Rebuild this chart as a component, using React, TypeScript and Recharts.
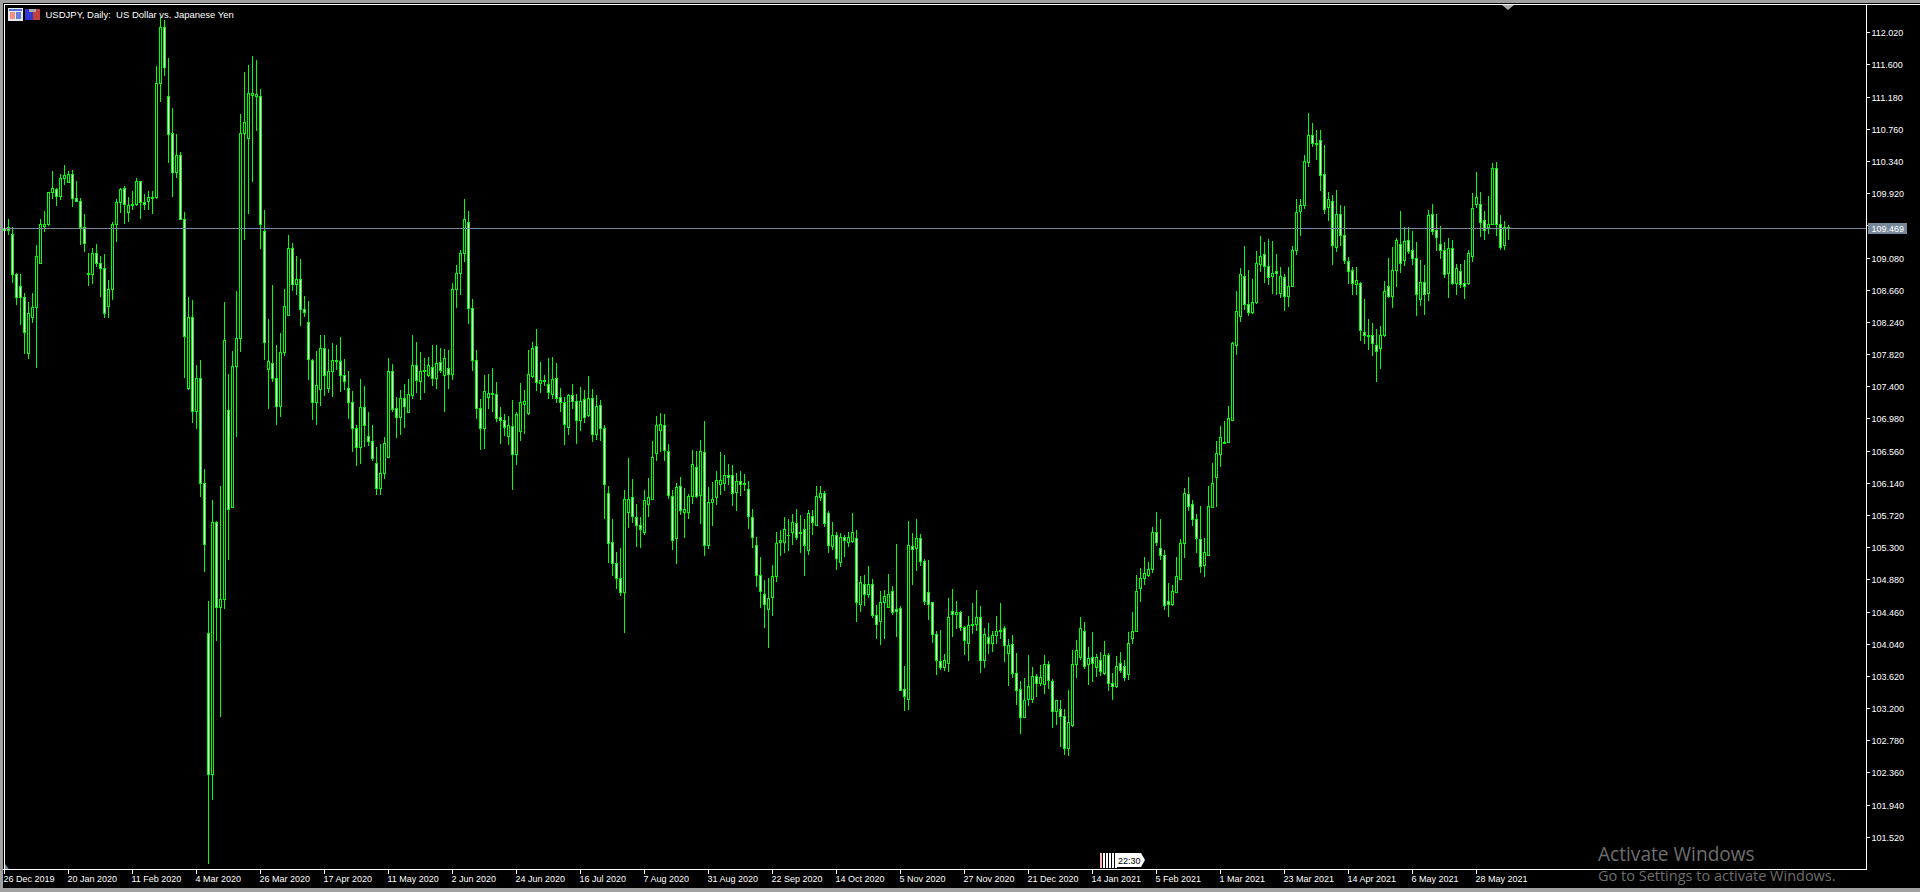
import React from 'react';
import { Bar, ComposedChart, ReferenceLine, XAxis, YAxis } from 'recharts';

const FONT = '"Liberation Sans", Arial, sans-serif';
const SLOTS = 466; // the terminal leaves empty space right of the last candle
const LABEL_EVERY = 16;
const LAST_PRICE = 109.469;

const dateLabels = [
  '26 Dec 2019', '20 Jan 2020', '11 Feb 2020', '4 Mar 2020', '26 Mar 2020', '17 Apr 2020',
  '11 May 2020', '2 Jun 2020', '24 Jun 2020', '16 Jul 2020', '7 Aug 2020', '31 Aug 2020',
  '22 Sep 2020', '14 Oct 2020', '5 Nov 2020', '27 Nov 2020', '21 Dec 2020', '14 Jan 2021',
  '5 Feb 2021', '1 Mar 2021', '23 Mar 2021', '14 Apr 2021', '6 May 2021', '28 May 2021',
];

const priceTicks = [
  112.02, 111.6, 111.18, 110.76, 110.34, 109.92, 109.5, 109.08, 108.66, 108.24, 107.82, 107.4, 106.98,
  106.56, 106.14, 105.72, 105.3, 104.88, 104.46, 104.04, 103.62, 103.2, 102.78, 102.36, 101.94, 101.52,
];

const opens = [
  109.47, 109.49, 109.40, 108.87, 108.72, 108.57, 107.84, 108.31, 108.44, 109.02,
  109.50, 109.52, 109.94, 109.98, 109.89, 110.13, 110.07, 110.18, 109.86, 109.83,
  109.48, 108.87, 108.87, 109.14, 109.01, 108.95, 108.46, 108.67, 109.52, 109.81,
  109.99, 109.68, 109.77, 109.78, 110.08, 109.81, 109.82, 109.86, 109.87, 111.36,
  112.09, 111.19, 110.71, 110.20, 110.42, 109.59, 107.39, 108.31, 107.08, 107.52,
  106.15, 104.19, 102.35, 105.63, 104.53, 104.63, 107.10, 105.83, 107.67, 108.04,
  110.71, 110.64, 111.21, 111.20, 111.20, 109.43, 107.63, 107.71, 107.52, 107.15,
  107.86, 108.34, 109.21, 108.74, 108.81, 108.41, 108.25, 107.75, 107.20, 107.37,
  107.90, 107.38, 107.60, 107.74, 107.74, 107.55, 107.38, 107.20, 106.86, 106.61,
  107.14, 106.76, 106.69, 106.40, 106.08, 106.27, 106.48, 107.60, 107.12, 107.01,
  107.25, 107.07, 107.29, 107.69, 107.48, 107.62, 107.55, 107.66, 107.52, 107.72,
  107.56, 107.65, 107.57, 108.67, 108.89, 109.14, 109.55, 108.43, 107.75, 107.12,
  106.86, 107.27, 107.31, 107.30, 107.00, 106.97, 106.76, 106.89, 106.52, 106.82,
  107.18, 107.06, 107.54, 107.93, 107.45, 107.48, 107.44, 107.31, 107.52, 107.26,
  107.20, 106.88, 107.29, 107.22, 106.96, 107.24, 107.03, 107.25, 106.79, 107.16,
  106.86, 106.02, 105.37, 105.10, 104.91, 104.72, 105.76, 105.96, 105.70, 105.59,
  105.51, 105.87, 105.93, 106.53, 106.83, 106.90, 106.56, 105.97, 105.42, 106.11,
  105.77, 105.76, 105.97, 106.35, 105.99, 106.55, 105.33, 105.89, 105.96, 106.13,
  106.15, 106.25, 106.25, 106.03, 106.17, 106.14, 106.07, 105.70, 105.34, 104.94,
  104.69, 104.50, 104.65, 104.93, 105.38, 105.38, 105.46, 105.50, 105.62, 105.49,
  105.54, 105.27, 105.72, 105.60, 105.96, 106.02, 105.75, 105.32, 105.47, 105.11,
  105.44, 105.38, 105.39, 105.42, 104.57, 104.83, 104.69, 104.82, 104.42, 104.34,
  104.59, 104.53, 104.73, 104.50, 104.51, 103.45, 103.32, 105.32, 105.29, 105.42,
  105.13, 104.72, 104.59, 104.18, 103.82, 103.74, 103.79, 104.48, 104.43, 104.46,
  104.26, 104.05, 104.29, 104.30, 104.40, 103.84, 104.13, 104.05, 104.16, 104.21,
  104.25, 103.93, 104.04, 103.66, 103.45, 103.09, 103.32, 103.32, 103.62, 103.53,
  103.52, 103.78, 103.56, 103.17, 103.19, 103.11, 102.68, 102.99, 103.78, 103.88,
  104.21, 103.78, 103.87, 103.74, 103.83, 103.67, 103.90, 103.53, 103.50, 103.79,
  103.75, 103.65, 104.12, 104.21, 104.77, 104.90, 104.95, 105.02, 105.51, 105.30,
  105.20, 104.60, 104.57, 104.72, 104.89, 105.36, 106.00, 105.87, 105.68, 105.41,
  105.07, 105.21, 105.83, 106.22, 106.52, 106.67, 106.68, 106.97, 107.95, 108.32,
  108.84, 108.48, 108.38, 108.50, 109.00, 109.13, 108.98, 108.84, 108.91, 108.62,
  108.83, 108.59, 108.71, 109.18, 109.70, 109.77, 110.33, 110.68, 110.57, 110.62,
  110.18, 109.74, 109.82, 109.22, 109.65, 109.38, 109.04, 108.92, 108.74, 108.76,
  108.12, 108.08, 108.07, 107.94, 107.90, 108.07, 108.71, 108.59, 108.92, 109.26,
  109.06, 109.32, 109.18, 109.08, 108.55, 108.77, 108.63, 109.65, 109.44, 109.26,
  109.19, 108.88, 109.21, 108.75, 108.91, 108.75, 108.76, 109.10, 109.78, 109.78,
  109.57, 109.48, 109.53, 110.26, 109.52, 109.25, 109.49,
];

const closes = [
  109.45, 109.45, 108.87, 108.57, 108.57, 108.11, 108.36, 108.44, 109.10, 109.52,
  109.52, 109.94, 109.99, 109.89, 110.13, 110.16, 110.18, 109.86, 109.83, 109.49,
  109.28, 108.89, 109.14, 109.01, 108.95, 108.36, 108.67, 109.52, 109.81, 109.98,
  109.78, 109.77, 109.78, 110.08, 109.81, 109.78, 109.87, 109.87, 111.36, 112.09,
  111.57, 110.70, 110.20, 110.42, 109.59, 108.06, 108.31, 107.08, 107.52, 106.15,
  105.35, 102.35, 105.63, 104.53, 104.63, 108.01, 105.80, 107.67, 108.04, 110.71,
  110.85, 111.23, 111.23, 111.22, 109.53, 107.98, 107.73, 107.52, 107.15, 107.86,
  108.45, 109.21, 108.74, 108.81, 108.41, 108.38, 107.76, 107.20, 107.42, 107.91,
  107.55, 107.61, 107.75, 107.75, 107.56, 107.48, 107.20, 106.86, 106.61, 107.14,
  106.90, 106.69, 106.47, 106.08, 106.27, 106.67, 107.61, 107.11, 107.01, 107.25,
  107.15, 107.30, 107.69, 107.49, 107.60, 107.60, 107.68, 107.52, 107.71, 107.62,
  107.78, 107.57, 108.67, 108.89, 109.14, 109.59, 108.43, 107.75, 107.12, 106.86,
  107.34, 107.32, 107.32, 106.99, 106.97, 106.87, 106.90, 106.52, 107.04, 107.20,
  107.22, 107.57, 107.91, 107.46, 107.49, 107.49, 107.33, 107.50, 107.25, 107.20,
  106.91, 107.29, 107.22, 106.96, 107.21, 107.01, 107.25, 106.79, 107.15, 106.86,
  106.13, 105.36, 105.10, 104.91, 104.72, 105.93, 105.94, 105.71, 105.59, 105.54,
  105.92, 105.96, 106.49, 106.90, 106.92, 106.57, 105.99, 105.40, 106.09, 105.79,
  105.81, 105.97, 106.39, 105.98, 106.56, 105.34, 105.89, 105.94, 106.18, 106.18,
  106.25, 106.22, 106.02, 106.17, 106.13, 106.13, 105.72, 105.44, 104.94, 104.74,
  104.56, 104.64, 104.93, 105.36, 105.40, 105.55, 105.47, 105.64, 105.44, 105.51,
  105.33, 105.75, 105.63, 105.97, 106.02, 105.62, 105.34, 105.47, 105.16, 105.44,
  105.40, 105.44, 105.50, 104.59, 104.85, 104.70, 104.82, 104.42, 104.31, 104.59,
  104.67, 104.69, 104.46, 104.47, 103.44, 103.36, 105.34, 105.28, 105.42, 105.13,
  104.61, 104.57, 104.18, 103.83, 103.74, 103.83, 104.40, 104.44, 104.46, 104.26,
  104.09, 104.29, 104.30, 104.39, 103.83, 104.18, 104.05, 104.16, 104.21, 104.23,
  104.03, 104.03, 103.66, 103.44, 103.09, 103.31, 103.50, 103.63, 103.53, 103.61,
  103.78, 103.57, 103.17, 103.31, 103.11, 102.69, 103.02, 103.78, 103.96, 104.25,
  103.75, 103.86, 103.80, 103.87, 103.69, 103.90, 103.54, 103.49, 103.76, 103.71,
  103.61, 104.05, 104.21, 104.73, 104.91, 104.97, 105.02, 105.50, 105.38, 105.20,
  104.55, 104.57, 104.73, 104.93, 105.36, 106.02, 105.85, 105.68, 105.42, 105.06,
  105.24, 105.84, 106.15, 106.54, 106.75, 106.68, 106.99, 107.97, 108.39, 108.87,
  108.48, 108.37, 108.50, 109.02, 109.11, 108.98, 108.83, 108.88, 108.88, 108.84,
  108.58, 108.72, 109.18, 109.68, 109.77, 110.34, 110.68, 110.58, 110.58, 110.17,
  109.72, 109.85, 109.25, 109.65, 109.38, 109.05, 108.91, 108.76, 108.79, 108.14,
  108.08, 108.06, 107.97, 107.87, 108.08, 108.65, 108.58, 108.92, 109.32, 109.02,
  109.30, 109.17, 109.08, 108.61, 108.77, 108.61, 109.64, 109.43, 109.36, 109.18,
  108.87, 109.21, 108.75, 108.95, 108.74, 108.72, 109.14, 109.73, 109.87, 109.55,
  109.45, 109.53, 110.25, 109.52, 109.23, 109.49, 109.469,
];

const highs = [
  109.63, 109.59, 109.48, 108.88, 108.87, 108.63, 108.50, 108.63, 109.25, 109.59,
  109.69, 109.94, 110.21, 110.00, 110.18, 110.29, 110.21, 110.23, 110.09, 109.86,
  109.65, 109.14, 109.21, 109.26, 109.10, 109.13, 108.79, 109.55, 109.85, 110.00,
  110.02, 109.88, 109.96, 110.13, 110.09, 109.91, 109.96, 109.95, 111.59, 112.22,
  112.19, 111.69, 111.04, 110.70, 110.46, 109.68, 108.57, 108.53, 107.68, 107.75,
  106.33, 104.60, 105.92, 105.65, 106.10, 108.51, 107.57, 107.87, 108.65, 110.96,
  111.51, 111.60, 111.72, 111.67, 111.29, 109.71, 108.29, 108.73, 107.95, 108.10,
  108.67, 109.38, 109.28, 109.11, 109.07, 108.59, 108.52, 107.76, 107.87, 108.08,
  108.08, 107.89, 107.97, 107.94, 108.05, 107.76, 107.61, 107.34, 106.90, 107.50,
  107.41, 107.07, 106.90, 106.61, 106.65, 106.75, 107.77, 107.70, 107.27, 107.36,
  107.43, 107.50, 108.08, 107.99, 107.85, 107.77, 107.79, 107.94, 107.94, 107.91,
  107.89, 107.88, 108.76, 108.99, 109.19, 109.85, 109.69, 108.54, 107.88, 107.24,
  107.55, 107.57, 107.64, 107.46, 107.13, 107.05, 107.02, 107.23, 107.07, 107.45,
  107.36, 107.88, 107.98, 108.16, 107.72, 107.56, 107.77, 107.79, 107.71, 107.39,
  107.26, 107.31, 107.44, 107.30, 107.40, 107.36, 107.54, 107.37, 107.29, 107.23,
  106.90, 106.10, 105.68, 105.24, 105.30, 106.05, 106.47, 106.20, 105.87, 105.70,
  106.05, 106.21, 106.69, 107.02, 107.06, 107.04, 106.65, 106.05, 106.15, 106.22,
  106.08, 106.00, 106.57, 106.56, 106.70, 106.95, 106.09, 106.16, 106.30, 106.55,
  106.51, 106.39, 106.38, 106.27, 106.30, 106.26, 106.17, 105.81, 105.44, 105.18,
  104.88, 104.90, 105.07, 105.50, 105.53, 105.70, 105.68, 105.74, 105.80, 105.73,
  105.67, 105.79, 105.79, 106.10, 106.10, 106.04, 105.78, 105.63, 105.51, 105.49,
  105.47, 105.50, 105.75, 105.53, 104.93, 104.94, 105.06, 104.89, 104.55, 104.73,
  104.75, 104.96, 104.80, 105.35, 104.54, 103.76, 105.65, 105.49, 105.67, 105.48,
  105.15, 105.14, 104.59, 104.21, 104.22, 103.91, 104.64, 104.76, 104.60, 104.47,
  104.28, 104.41, 104.58, 104.75, 104.54, 104.25, 104.32, 104.21, 104.41, 104.58,
  104.28, 104.11, 104.16, 103.93, 103.56, 103.60, 103.90, 103.74, 103.65, 103.77,
  103.90, 103.82, 103.59, 103.31, 103.31, 103.19, 103.44, 103.96, 104.09, 104.39,
  104.33, 104.00, 104.20, 103.91, 103.94, 104.08, 103.93, 103.66, 103.89, 103.94,
  103.83, 104.20, 104.46, 104.94, 105.03, 105.18, 105.11, 105.57, 105.77, 105.67,
  105.27, 104.84, 104.81, 105.18, 105.41, 106.08, 106.22, 105.92, 105.74, 105.84,
  105.43, 106.10, 106.40, 106.69, 106.89, 106.95, 107.15, 107.98, 108.65, 108.95,
  109.24, 108.92, 108.81, 109.17, 109.37, 109.29, 109.33, 109.30, 109.13, 108.96,
  108.87, 108.96, 109.24, 109.85, 109.85, 110.42, 110.97, 110.84, 110.75, 110.75,
  110.55, 109.94, 109.90, 109.97, 109.77, 109.76, 109.09, 108.96, 108.96, 108.77,
  108.55, 108.28, 108.23, 108.15, 108.19, 108.78, 109.08, 109.22, 109.34, 109.69,
  109.48, 109.48, 109.43, 109.29, 109.05, 108.99, 109.71, 109.79, 109.65, 109.50,
  109.29, 109.34, 109.32, 109.00, 109.00, 109.06, 109.18, 109.93, 110.20, 109.94,
  109.70, 109.89, 110.32, 110.33, 109.64, 109.56, 109.51,
];

const lows = [
  109.34, 109.38, 108.75, 108.46, 108.21, 107.83, 107.76, 108.24, 107.64, 109.00,
  109.42, 109.50, 109.84, 109.77, 109.84, 110.03, 110.06, 109.75, 109.81, 109.25,
  109.16, 108.71, 108.74, 108.96, 108.57, 108.30, 108.30, 108.53, 109.29, 109.68,
  109.52, 109.55, 109.71, 109.76, 109.60, 109.70, 109.71, 109.65, 109.85, 111.11,
  111.46, 110.32, 109.88, 110.13, 109.57, 107.51, 107.35, 106.92, 106.84, 105.96,
  104.98, 101.17, 102.00, 104.09, 103.08, 104.50, 105.14, 105.83, 106.75, 107.86,
  109.32, 109.66, 110.08, 110.74, 109.20, 107.75, 107.11, 107.46, 106.91, 107.00,
  107.79, 108.32, 108.66, 108.60, 108.19, 108.31, 107.49, 106.97, 106.91, 107.15,
  107.29, 107.32, 107.27, 107.62, 107.33, 107.36, 106.98, 106.55, 106.36, 106.39,
  106.61, 106.63, 106.43, 105.98, 105.98, 106.20, 106.47, 107.08, 106.73, 106.77,
  106.85, 107.06, 107.25, 107.32, 107.23, 107.31, 107.53, 107.40, 107.37, 107.59,
  107.07, 107.37, 107.49, 108.43, 108.60, 109.03, 108.22, 107.60, 106.98, 106.57,
  106.58, 107.11, 107.06, 106.94, 106.65, 106.76, 106.64, 106.06, 106.38, 106.69,
  106.78, 107.03, 107.51, 107.35, 107.32, 107.42, 107.24, 107.24, 107.19, 107.08,
  106.63, 106.77, 107.11, 106.65, 106.82, 106.93, 107.00, 106.68, 106.70, 106.70,
  105.67, 105.10, 104.94, 104.76, 104.67, 104.18, 105.56, 105.62, 105.31, 105.30,
  105.46, 105.70, 105.92, 106.43, 106.55, 106.43, 105.93, 105.27, 105.09, 105.73,
  105.43, 105.67, 105.86, 105.95, 105.60, 105.19, 105.28, 105.58, 105.85, 105.99,
  106.04, 106.12, 105.85, 105.78, 105.97, 106.04, 105.54, 105.30, 104.79, 104.51,
  104.26, 103.99, 104.40, 104.85, 105.19, 105.23, 105.26, 105.33, 105.39, 105.23,
  104.93, 105.20, 105.47, 105.59, 105.91, 105.57, 105.23, 105.26, 105.02, 105.05,
  105.18, 105.30, 105.36, 104.33, 104.46, 104.54, 104.64, 104.38, 104.11, 104.02,
  104.11, 104.52, 104.42, 104.13, 103.43, 103.17, 103.18, 104.81, 104.99, 105.06,
  104.55, 104.36, 104.06, 103.64, 103.70, 103.69, 103.68, 104.13, 104.24, 104.21,
  103.90, 103.82, 104.17, 104.21, 103.67, 103.73, 103.91, 103.94, 104.04, 104.11,
  103.81, 103.50, 103.60, 103.25, 102.87, 103.09, 103.23, 103.27, 103.35, 103.50,
  103.39, 103.46, 102.95, 102.99, 102.70, 102.59, 102.58, 102.95, 103.60, 103.83,
  103.72, 103.51, 103.55, 103.61, 103.63, 103.64, 103.44, 103.31, 103.47, 103.66,
  103.55, 103.57, 104.04, 104.19, 104.59, 104.81, 104.92, 104.97, 105.32, 105.14,
  104.49, 104.40, 104.54, 104.71, 104.88, 105.17, 105.77, 105.58, 105.23, 104.97,
  104.92, 105.18, 105.82, 105.83, 106.35, 106.67, 106.67, 106.95, 107.81, 108.25,
  108.40, 108.32, 108.35, 108.48, 108.90, 108.75, 108.73, 108.61, 108.60, 108.56,
  108.39, 108.44, 108.70, 109.12, 109.37, 109.72, 110.27, 110.53, 110.36, 109.95,
  109.65, 109.56, 108.99, 109.16, 109.24, 109.00, 108.74, 108.60, 108.60, 108.00,
  107.96, 107.87, 107.80, 107.46, 107.63, 108.05, 108.56, 108.43, 108.70, 108.88,
  108.97, 109.13, 108.99, 108.32, 108.45, 108.34, 108.52, 109.39, 109.17, 109.07,
  108.82, 108.56, 108.73, 108.60, 108.69, 108.55, 108.72, 109.03, 109.73, 109.35,
  109.32, 109.40, 109.52, 109.36, 109.18, 109.18, 109.32,
];

const chartData = Array.from({ length: SLOTS }, (_, index) => ({
  index,
  open: opens[index] ?? null,
  close: closes[index] ?? null,
  high: highs[index] ?? null,
  low: lows[index] ?? null,
}));

const Candle = ({ x, y, width, height, payload }: any) => {
  if (payload.high == null) return null;
  const col = Math.floor(x + width / 2);
  const unit = height / (payload.high - payload.low);
  const bodyTop = Math.round(y + (payload.high - Math.max(payload.open, payload.close)) * unit);
  const bodyBottom = Math.round(y + (payload.high - Math.min(payload.open, payload.close)) * unit) + 1;
  const falling = payload.close < payload.open;
  return (
    <g shapeRendering="crispEdges">
      <rect x={col} y={Math.round(y)} width={1} height={Math.max(1, Math.round(height))} fill="#00ff00" />
      <rect x={col - 1} y={bodyTop} width={3} height={bodyBottom - bodyTop} fill="#00ff00" />
      {bodyBottom - bodyTop > 2 && (
        <rect x={col} y={bodyTop + 1} width={1} height={bodyBottom - bodyTop - 2} fill={falling ? '#ffffff' : '#000000'} />
      )}
    </g>
  );
};

const TimeTick = ({ x, y, payload }: any) => {
  const text = payload.value % LABEL_EVERY === 0 ? dateLabels[payload.value / LABEL_EVERY] : undefined;
  if (!text) return null;
  const col = Math.floor(x);
  return (
    <g>
      <rect x={col} y={y} width={1} height={5} fill="#ffffff" shapeRendering="crispEdges" />
      <text x={col - 0.5} y={y + 13} fill="#ffffff" fontSize={9} fontFamily={FONT}>{text}</text>
    </g>
  );
};

// The last price comes through the axis as its final tick, so its tag paints over the 109.500 label
const PriceTick = ({ x, y, payload }: any) => {
  if (payload.value === LAST_PRICE) {
    return (
      <g>
        <rect x={Math.floor(x) + 2} y={Math.floor(y) - 5} width={39} height={11} fill="#778899" shapeRendering="crispEdges" />
        <text x={x + 5} y={y + 3.5} fill="#ffffff" fontSize={9} fontFamily={FONT}>{payload.value.toFixed(3)}</text>
      </g>
    );
  }
  return (
    <g>
      <rect x={Math.floor(x)} y={Math.floor(y)} width={4} height={1} fill="#ffffff" shapeRendering="crispEdges" />
      <text x={x + 5} y={y + 3.5} fill="#ffffff" fontSize={9} fontFamily={FONT}>{payload.value.toFixed(3)}</text>
    </g>
  );
};

const Decor = () => (
  <svg width={1920} height={892} style={{ position: 'absolute', left: 0, top: 0, pointerEvents: 'none' }}>
    {/* window chrome */}
    <g shapeRendering="crispEdges">
      <rect x={0} y={0} width={1920} height={3} fill="#a0a0a0" />
      <rect x={0} y={0} width={3} height={892} fill="#a0a0a0" />
      <rect x={0} y={888} width={1920} height={4} fill="#a0a0a0" />
      <rect x={4} y={4} width={1916} height={1} fill="#ffffff" />
      <rect x={4} y={4} width={1} height={866} fill="#ffffff" />
    </g>
    {/* title icons */}
    <g shapeRendering="crispEdges">
      <rect x={8} y={8} width={15} height={13} fill="#e8e8f0" />
      <rect x={9} y={9} width={13} height={2} fill="#5070d8" />
      <rect x={10} y={12} width={5} height={7} fill="#f09080" />
      <rect x={16} y={12} width={5} height={7} fill="#6080e0" />
      <rect x={25} y={9} width={8} height={11} fill="#3038d0" />
      <rect x={33} y={9} width={7} height={11} fill="#c04040" />
      <rect x={29} y={9} width={7} height={3} fill="#a8a8a8" />
    </g>
    <text x={45.5} y={18} fill="#ffffff" fontSize={9.5} fontFamily={FONT} style={{ whiteSpace: 'pre' }}>
      {'USDJPY, Daily:  US Dollar vs. Japanese Yen'}
    </text>
    {/* chart shift marker and scroll corner */}
    <polygon points="1502,5 1514,5 1508,10" fill="#a8a8a8" />
    <polygon points="5,864 5,869 9,869" fill="#778899" />
    {/* period separators tag */}
    <g shapeRendering="crispEdges">
      <rect x={1100} y={853} width={2} height={15} fill="#ffb0b0" />
      <rect x={1103} y={853} width={2} height={15} fill="#ffffff" />
      <rect x={1106} y={853} width={2} height={15} fill="#ffffff" />
      <rect x={1109} y={853} width={2} height={15} fill="#ffffff" />
      <rect x={1112} y={853} width={2} height={15} fill="#ffffff" />
      <rect x={1115} y={853} width={2} height={15} fill="#ffffff" />
    </g>
    <polygon points="1117,853 1141,853 1145,860 1141,867 1117,867" fill="#ffffff" />
    <text x={1118} y={863.5} fill="#000000" fontSize={9} fontFamily={FONT}>22:30</text>
    {/* activation watermark */}
    <text x={1598} y={861} fill="#6e6e6e" fontSize={19.1} fontFamily='"Open Sans", sans-serif'>Activate Windows</text>
    <text x={1598} y={881} fill="#6e6e6e" fontSize={14.5} fontFamily='"Open Sans", sans-serif'>Go to Settings to activate Windows.</text>
  </svg>
);

export default function App() {
  return (
    <div style={{ position: 'absolute', left: 0, top: 0, width: 1920, height: 892, background: '#000000', overflow: 'hidden' }}>
      <ComposedChart
        width={1920}
        height={892}
        data={chartData}
        margin={{ top: 4, right: 0, bottom: 0, left: 2.5 }}
        barCategoryGap={0}
      >
        <XAxis
          dataKey="index"
          type="category"
          height={23}
          interval={LABEL_EVERY - 1}
          axisLine={{ stroke: '#ffffff', shapeRendering: 'crispEdges' }}
          tickLine={false}
          tickSize={0}
          tickMargin={0}
          tick={<TimeTick />}
        />
        <YAxis
          orientation="right"
          type="number"
          width={53.5}
          domain={[101.107, 112.395]}
          allowDataOverflow
          ticks={[...priceTicks, LAST_PRICE]}
          interval={0}
          axisLine={{ stroke: '#ffffff', shapeRendering: 'crispEdges' }}
          tickLine={false}
          tickSize={0}
          tickMargin={0}
          tick={<PriceTick />}
        />
        <ReferenceLine y={LAST_PRICE} stroke="#778899" shapeRendering="crispEdges" />
        <Bar dataKey={(d: any) => [d.low, d.high]} shape={<Candle />} isAnimationActive={false} />
      </ComposedChart>
      <Decor />
    </div>
  );
}
